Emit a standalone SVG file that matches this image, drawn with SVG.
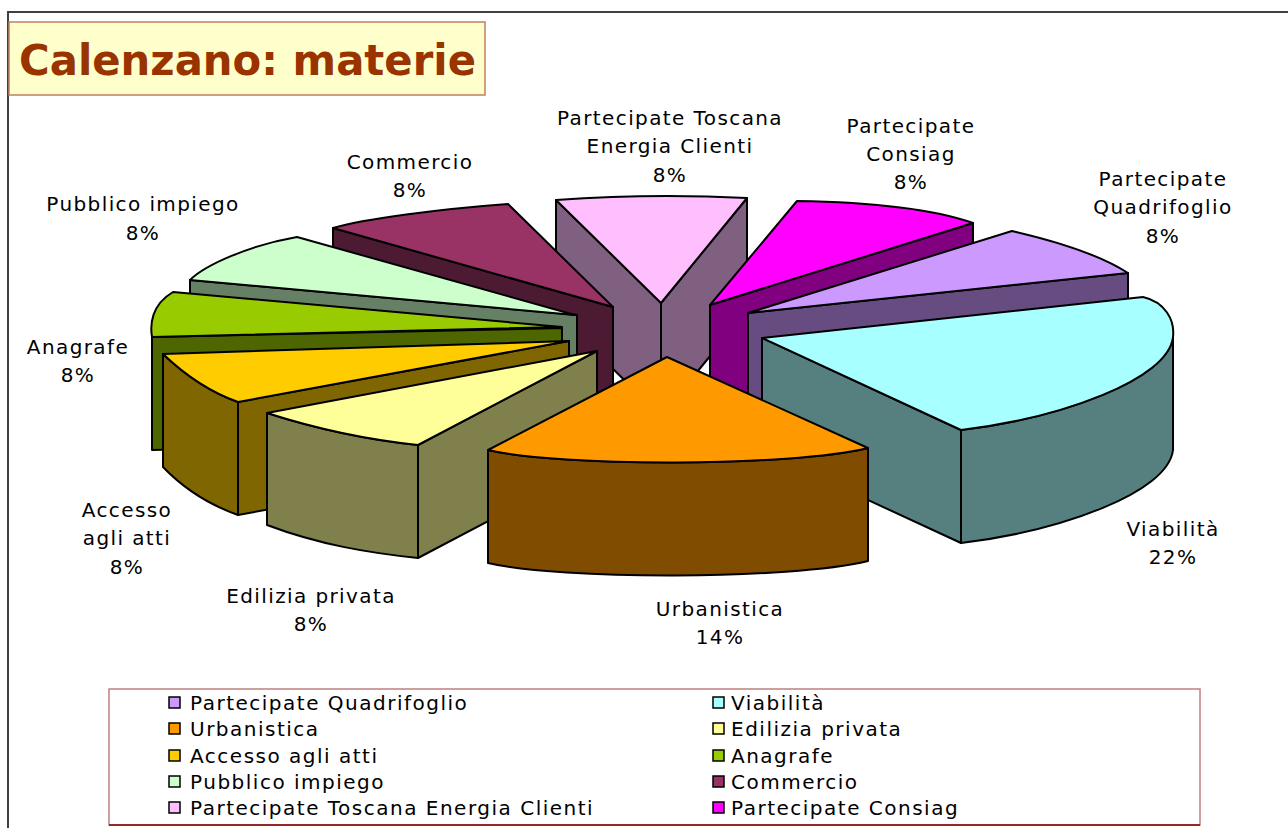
<svg xmlns="http://www.w3.org/2000/svg" width="1288" height="828" viewBox="0 0 1288 828">
<style>
.f{stroke:#000;stroke-width:2;stroke-linejoin:round}
.lbl{font-family:"DejaVu Sans","Verdana",sans-serif;font-size:20px;letter-spacing:1.4px;fill:#000;text-anchor:middle}
.lg{font-family:"DejaVu Sans","Verdana",sans-serif;font-size:20px;letter-spacing:1.5px;fill:#000}
.sq{stroke:#000;stroke-width:1.5}
</style>
<rect x="0" y="0" width="1288" height="828" fill="#fff"/>
<rect x="8" y="12" width="1300" height="840" fill="none" stroke="#404040" stroke-width="2"/>
<g id="title">
<rect x="9" y="22" width="476" height="73" fill="#FFFFCC" stroke="#C08060" stroke-width="1.5"/>
<text x="19" y="75" font-family="DejaVu Sans,Verdana,sans-serif" font-weight="bold" font-size="43" fill="#993300" textLength="457" lengthAdjust="spacingAndGlyphs">Calenzano: materie</text>
</g>
<g id="slice-toscana">
<path class="f" fill="#806080" d="M556,200 L661,303 L661,416 L556,313 Z"/>
<path class="f" fill="#806080" d="M747,198 L661,303 L661,416 L747,311 Z"/>
<path class="f" fill="#FFBFFF" d="M556,200 Q651,193 747,198 L661,303 Z"/>
</g>
<g id="slice-commercio">
<path class="f" fill="#4D1A33" d="M333,228 L613,307 L613,420 L333,341 Z"/>
<path class="f" fill="#993366" d="M333,228 C363,219 440,209 508,204 L613,307 Z"/>
</g>
<g id="slice-pubblico">
<path class="f" fill="#668066" d="M190,280 L577,315 L577,428 L190,393 Z"/>
<path class="f" fill="#CCFFCC" d="M190,280 C205,265 250,245 297,237 L575,315 Z"/>
</g>
<g id="slice-consiag">
<path class="f" fill="#800080" d="M710,305 L973,223 L973,336 L710,418 Z"/>
<path class="f" fill="#FF00FF" d="M710,305 L797,201 C860,202 930,208 973,223 Z"/>
</g>
<g id="slice-quadrifoglio">
<path class="f" fill="#664C80" d="M748,313 L1128,273 L1128,386 L748,426 Z"/>
<path class="f" fill="#CC99FF" d="M748,313 L1012,231 C1060,242 1100,255 1128,273 Z"/>
</g>
<g id="slice-anagrafe">
<path class="f" fill="#4D6600" d="M152,337 L562,328 L562,441 L152,450 Z"/>
<path class="f" fill="#99CC00" d="M173,292 L562,327 L152,337 C150,325 151,305 173,292 Z"/>
</g>
<g id="slice-accesso">
<path class="f" fill="#806600" d="M163,354 C185,375 210,392 238,402 L238,515 C210,505 185,490 163,467 Z"/>
<path class="f" fill="#806600" d="M238,402 L569,341 L569,454 L238,515 Z"/>
<path class="f" fill="#FFCC00" d="M163,354 L569,341 L238,402 C210,392 185,375 163,354 Z"/>
</g>
<g id="slice-edilizia">
<path class="f" fill="#80804D" d="M267,413 C320,430 370,440 418,445 L418,558 C370,553 320,545 267,525 Z"/>
<path class="f" fill="#80804D" d="M418,445 L597,351 L597,464 L418,558 Z"/>
<path class="f" fill="#FFFF99" d="M267,413 L597,351 L418,445 C370,440 320,430 267,413 Z"/>
</g>
<g id="slice-viabilita">
<path class="f" fill="#568080" d="M762,338 L961,430 L961,543 L762,451 Z"/>
<path class="f" fill="#568080" d="M1173,337 C1168,380 1060,418 961,430 L961,543 C1060,531 1168,493 1173,450 Z"/>
<path class="f" fill="#A8FFFF" d="M762,338 L1143,297 C1165,302 1175,320 1173,337 C1168,380 1060,418 961,430 Z"/>
</g>
<g id="slice-urbanistica">
<path class="f" fill="#804C00" d="M488,450 C560,467 790,467 868,448 L868,561 C790,580 560,580 488,563 Z"/>
<path class="f" fill="#FF9900" d="M667,357 L868,448 C790,467 560,467 488,450 Z"/>
</g>
<g id="labels">
<text class="lbl" x="670" y="125">Partecipate Toscana</text>
<text class="lbl" x="670" y="153">Energia Clienti</text>
<text class="lbl" x="670" y="182">8%</text>
<text class="lbl" x="911" y="133">Partecipate</text>
<text class="lbl" x="911" y="161">Consiag</text>
<text class="lbl" x="911" y="189">8%</text>
<text class="lbl" x="1163" y="186">Partecipate</text>
<text class="lbl" x="1163" y="214">Quadrifoglio</text>
<text class="lbl" x="1163" y="243">8%</text>
<text class="lbl" x="410" y="169">Commercio</text>
<text class="lbl" x="410" y="197">8%</text>
<text class="lbl" x="143" y="211">Pubblico impiego</text>
<text class="lbl" x="143" y="240">8%</text>
<text class="lbl" x="78" y="354">Anagrafe</text>
<text class="lbl" x="78" y="382">8%</text>
<text class="lbl" x="127" y="517">Accesso</text>
<text class="lbl" x="127" y="545">agli atti</text>
<text class="lbl" x="127" y="574">8%</text>
<text class="lbl" x="311" y="603">Edilizia privata</text>
<text class="lbl" x="311" y="631">8%</text>
<text class="lbl" x="720" y="616">Urbanistica</text>
<text class="lbl" x="720" y="644">14%</text>
<text class="lbl" x="1173" y="536">Viabilità</text>
<text class="lbl" x="1173" y="564">22%</text>
</g>
<g id="legend">
<rect x="109" y="689" width="1091" height="136" fill="#fff" stroke="#C08080" stroke-width="1.5"/>
<line x1="109" y1="825" x2="1200" y2="825" stroke="#800000" stroke-width="1.5"/>
<rect class="sq" x="169" y="697" width="11" height="11" fill="#CC99FF"/>
<text class="lg" x="190" y="710">Partecipate Quadrifoglio</text>
<rect class="sq" x="169" y="723" width="11" height="11" fill="#FF9900"/>
<text class="lg" x="190" y="736">Urbanistica</text>
<rect class="sq" x="169" y="750" width="11" height="11" fill="#FFCC00"/>
<text class="lg" x="190" y="763">Accesso agli atti</text>
<rect class="sq" x="169" y="776" width="11" height="11" fill="#CCFFCC"/>
<text class="lg" x="190" y="789">Pubblico impiego</text>
<rect class="sq" x="169" y="802" width="11" height="11" fill="#FFBFFF"/>
<text class="lg" x="190" y="815">Partecipate Toscana Energia Clienti</text>
<rect class="sq" x="713" y="697" width="11" height="11" fill="#A8FFFF"/>
<text class="lg" x="731" y="710">Viabilità</text>
<rect class="sq" x="713" y="723" width="11" height="11" fill="#FFFF99"/>
<text class="lg" x="731" y="736">Edilizia privata</text>
<rect class="sq" x="713" y="750" width="11" height="11" fill="#99CC00"/>
<text class="lg" x="731" y="763">Anagrafe</text>
<rect class="sq" x="713" y="776" width="11" height="11" fill="#993366"/>
<text class="lg" x="731" y="789">Commercio</text>
<rect class="sq" x="713" y="802" width="11" height="11" fill="#FF00FF"/>
<text class="lg" x="731" y="815">Partecipate Consiag</text>
</g>
</svg>
